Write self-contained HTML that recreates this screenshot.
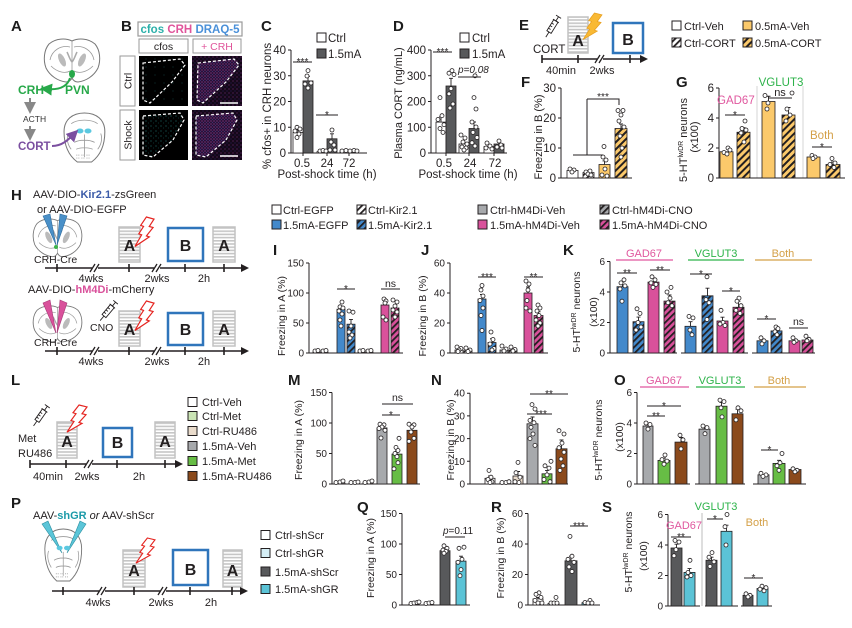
<!DOCTYPE html>
<html><head><meta charset="utf-8"><style>
html,body{margin:0;padding:0;background:#fff}
svg{display:block}
text{font-family:"Liberation Sans",Arial,sans-serif;fill:#231f20}
.ax{stroke:#231f20;stroke-width:1;fill:none}
.b{stroke:#231f20;stroke-width:.8}
.d{fill:#fff;stroke:#231f20;stroke-width:.8}
.e{stroke:#231f20;stroke-width:.9;fill:none}
.t{font-size:10px;text-anchor:end}
.t2{font-size:11.5px;text-anchor:end}
.L{font-family:"Liberation Sans Narrow","Liberation Sans",sans-serif;font-weight:bold;font-size:15px;fill:#1c1c1c}
.lg{font-size:11px}
.m{text-anchor:middle}
.tl{stroke:#231f20;stroke-width:1.6;fill:none}
.al{font-size:10.5px;text-anchor:middle}
.s{font-size:10px;text-anchor:middle}
.sl{stroke:#231f20;stroke-width:1.3}
.bx{fill:url(#st);stroke:#c2c2c2;stroke-width:1.5}
.bb{fill:#fff;stroke:#2f75bb;stroke-width:2.5}
.big{font-weight:bold;font-size:16px;text-anchor:middle}
</style></head><body>
<svg width="852" height="628" viewBox="0 0 852 628" xmlns="http://www.w3.org/2000/svg">
<defs>
<pattern id="hw" width="4.5" height="4.5" patternUnits="userSpaceOnUse" patternTransform="rotate(45)"><rect width="4.5" height="4.5" fill="#fff"/><rect width="1.8" height="4.5" fill="#231f20"/></pattern>
<pattern id="hb" width="4.5" height="4.5" patternUnits="userSpaceOnUse" patternTransform="rotate(45)"><rect width="4.5" height="4.5" fill="#4389cb"/><rect width="1.8" height="4.5" fill="#231f20"/></pattern>
<pattern id="hp" width="4.5" height="4.5" patternUnits="userSpaceOnUse" patternTransform="rotate(45)"><rect width="4.5" height="4.5" fill="#d9519b"/><rect width="1.8" height="4.5" fill="#231f20"/></pattern>
<pattern id="hg" width="4.5" height="4.5" patternUnits="userSpaceOnUse" patternTransform="rotate(45)"><rect width="4.5" height="4.5" fill="#a7a9ac"/><rect width="1.8" height="4.5" fill="#231f20"/></pattern>
<pattern id="ho" width="5" height="5" patternUnits="userSpaceOnUse" patternTransform="rotate(45)"><rect width="5" height="5" fill="#fbc96b"/><rect width="2" height="5" fill="#231f20"/></pattern>
<pattern id="st" width="4" height="3.2" patternUnits="userSpaceOnUse"><rect width="4" height="3.2" fill="#fff"/><rect width="4" height="1.6" fill="#c6c6c6"/></pattern>
<pattern id="cf1" width="9" height="8" patternUnits="userSpaceOnUse"><rect width="9" height="8" fill="#000"/><circle cx="2" cy="3" r=".4" fill="#1f7f7b"/></pattern>
<pattern id="cf2" width="5" height="5" patternUnits="userSpaceOnUse"><circle cx="1" cy="1" r=".5" fill="#2a9a96"/><circle cx="3.5" cy="3" r=".4" fill="#1a6e6a"/></pattern>
<pattern id="crh" width="4" height="4" patternUnits="userSpaceOnUse"><rect width="4" height="4" fill="#140818"/><circle cx="1" cy="1" r=".6" fill="#6a2a70"/><circle cx="3" cy="3" r=".5" fill="#32287a"/></pattern>
<pattern id="crh2" width="3" height="3" patternUnits="userSpaceOnUse"><rect width="3" height="3" fill="#2a1236"/><circle cx="1" cy="1" r=".6" fill="#9a4098"/><circle cx="2.4" cy="2.3" r=".45" fill="#5a44a8"/></pattern>
<path id="bolt" d="M12,0 L20,2 L15,9 L19,10 L12,18 L15,19 L0,28 L7,17 L4,16 L9,9 L6,8 Z"/>
<g id="syr" stroke="#231f20" stroke-width=".9" fill="none"><path d="M-6,0 H0 M13,0 H18 M18,-3 V3 M13,-3.5 V3.5 M3,-2.5 V0 M6,-2.5 V0 M9,-2.5 V0"/><rect x="0" y="-2.5" width="13" height="5" fill="#fff" fill-opacity="0"/></g>
<g id="br1"><path d="M29,3 C23,0 13,0 6,6 C1,12 0,22 3,30 C7,38 15,43 23,44 C26,44 28,42 29,40 C30,42 32,44 35,44 C43,43 51,38 55,30 C58,22 57,12 52,6 C45,0 35,0 29,3 Z" fill="#fff" stroke="#777" stroke-width="1"/>
<path d="M29,3 V40 M7,22 C9,12 18,7 27,9 M51,22 C49,12 40,7 31,9 M8,28 C14,34 22,36 27,33 M50,28 C44,34 36,36 31,33" fill="none" stroke="#999" stroke-width=".8"/>
<ellipse cx="19" cy="22" rx="3" ry="7" fill="#bbb" transform="rotate(-25 19 22)"/><ellipse cx="39" cy="22" rx="3" ry="7" fill="#bbb" transform="rotate(25 39 22)"/>
<path d="M24,14 C26,18 27,22 29,24 C31,22 32,18 34,14" fill="none" stroke="#aaa" stroke-width="1.5"/></g>
<g id="br2"><path d="M22,1 C10,1 2,8 2,20 C2,33 6,44 15,51 L29,51 C38,44 42,33 42,20 C42,8 34,1 22,1 Z" fill="#fff" stroke="#777"/>
<path d="M9,12 C15,7 29,7 35,12 M22,23 V46 M12,31 C17,28 27,28 32,31 M14,38 C18,36 26,36 30,38 M6,22 C4,28 6,34 9,38 M38,22 C40,28 38,34 35,38" fill="none" stroke="#999" stroke-width=".8"/>
<path d="M14,44 h3 M19,44 h3 M24,44 h3 M14,47 h3 M19,47 h3 M24,47 h3" stroke="#aaa" stroke-dasharray="1,1"/></g>
<marker id="mg" markerWidth="6" markerHeight="6" refX="3" refY="3" orient="auto"><path d="M0,0 L6,3 L0,6 Z" fill="#27a849"/></marker>
<marker id="mp" markerWidth="6" markerHeight="6" refX="3" refY="3" orient="auto"><path d="M0,0 L6,3 L0,6 Z" fill="#7b4fa0"/></marker>
<marker id="mk" markerWidth="6" markerHeight="6" refX="3" refY="3" orient="auto"><path d="M0,0 L6,3 L0,6 Z" fill="#888"/></marker>
</defs>

<!-- Panel labels -->
<text class="L" x="11" y="31">A</text><text class="L" x="121" y="31">B</text><text class="L" x="261" y="31">C</text><text class="L" x="393" y="31">D</text><text class="L" x="519" y="30">E</text><text class="L" x="521" y="87">F</text><text class="L" x="676" y="87">G</text>
<text class="L" x="11" y="200">H</text><text class="L" x="273" y="255">I</text><text class="L" x="421" y="255">J</text><text class="L" x="563" y="255">K</text>
<text class="L" x="11" y="385">L</text><text class="L" x="288" y="385">M</text><text class="L" x="431" y="385">N</text><text class="L" x="614" y="385">O</text>
<text class="L" x="11" y="508">P</text><text class="L" x="357" y="512">Q</text><text class="L" x="491" y="512">R</text><text class="L" x="602" y="512">S</text>

<!-- A -->
<use href="#br1" transform="translate(43,38)"/>
<ellipse cx="72" cy="74" rx="3" ry="4" fill="#27a849"/>
<path d="M70,78 Q66,91 46,89" fill="none" stroke="#27a849" stroke-width="2" marker-end="url(#mg)"/>
<text x="18" y="94" style="font-weight:bold;font-size:12px;fill:#27a849">CRH</text>
<text x="65" y="94" style="font-weight:bold;font-size:12px;fill:#27a849">PVN</text>
<path d="M30,98 V108" stroke="#888" stroke-width="2" marker-end="url(#mk)"/>
<text x="23" y="122" style="font-size:8.5px;fill:#333">ACTH</text>
<path d="M30,126 V135" stroke="#888" stroke-width="2" marker-end="url(#mk)"/>
<text x="18" y="150" style="font-weight:bold;font-size:11.5px;fill:#7b4fa0">CORT</text>
<use href="#br2" transform="translate(62,112) scale(1.02,0.98)"/>
<ellipse cx="80" cy="131" rx="3.5" ry="2.5" fill="#5bc8e0"/><ellipse cx="88" cy="131" rx="3.5" ry="2.5" fill="#5bc8e0"/>
<path d="M52,146 C62,146 68,140 74,134" fill="none" stroke="#7b4fa0" stroke-width="2" marker-end="url(#mp)"/>

<!-- B -->
<rect x="138" y="22" width="104" height="14" fill="#fff" stroke="#9a9a9a" stroke-width="1.2"/>
<text x="190" y="33" class="m" style="font-weight:bold;font-size:11.5px"><tspan style="fill:#2bb0aa">cfos</tspan> <tspan style="fill:#e0559b">CRH</tspan> <tspan style="fill:#4a90d9">DRAQ-5</tspan></text>
<rect x="139" y="39" width="49" height="14" fill="#fff" stroke="#9a9a9a"/><text x="163.5" y="50" class="m" style="font-size:10.5px">cfos</text>
<rect x="193" y="39" width="48" height="14" fill="#fff" stroke="#9a9a9a"/><text x="217" y="50" class="m" style="font-size:10.5px;fill:#e0559b">+ CRH</text>
<rect x="120" y="56" width="15" height="50" fill="#fff" stroke="#9a9a9a"/><text transform="translate(131.5,81) rotate(-90)" class="m" style="font-size:10.5px">Ctrl</text>
<rect x="120" y="110" width="15" height="50" fill="#fff" stroke="#9a9a9a"/><text transform="translate(131.5,135) rotate(-90)" class="m" style="font-size:10.5px">Shock</text>
<rect x="139" y="56" width="49" height="50" fill="url(#cf1)"/>
<rect x="192" y="56" width="50" height="50" fill="url(#crh)"/>
<rect x="139" y="110" width="49" height="50" fill="#000"/>
<rect x="192" y="110" width="50" height="50" fill="url(#crh)"/>
<path d="M198,63 L234,59 L239,65 L226,82 L203,103 L197,100 Z" fill="url(#crh2)"/>
<path d="M143,116 L180,113 L184,120 L173,140 L153,157 L143,155 Z" fill="url(#cf2)"/>
<path d="M196,116 L233,113 L237,120 L226,140 L206,157 L196,155 Z" fill="url(#crh2)"/>
<g fill="none" stroke="#fff" stroke-width="1.2" stroke-dasharray="3,2">
<path d="M143,63 L180,59 L185,65 L172,82 L150,103 L143,100 Z"/><path d="M198,63 L234,59 L239,65 L226,82 L203,103 L197,100 Z"/>
<path d="M143,116 L180,113 L184,120 L173,140 L153,157 L143,155 Z"/><path d="M196,116 L233,113 L237,120 L226,140 L206,157 L196,155 Z"/></g>
<path d="M220,103 H238 M220,156 H238" stroke="#fff" stroke-width="1.6"/>

<!-- C -->
<text transform="translate(271,106) rotate(-90)" class="m" style="font-size:11.5px">% cfos+ in CRH neurons</text>
<path class="ax" d="M291,50 V153 H367 M288,50 H291 M288,75.75 H291 M288,101.5 H291 M288,127.25 H291 M288,153 H291 M303,153 V156 M327,153 V156 M349,153 V156"/>
<text class="t2" x="286" y="54">40</text><text class="t2" x="286" y="79.8">30</text><text class="t2" x="286" y="105.5">20</text><text class="t2" x="286" y="131.3">10</text><text class="t2" x="286" y="157">0</text>
<text x="302" y="167" class="m" style="font-size:11.5px">0.5</text><text x="327" y="167" class="m" style="font-size:11.5px">24</text><text x="349" y="167" class="m" style="font-size:11.5px">72</text>
<text x="327" y="178" class="m" style="font-size:11.5px">Post-shock time (h)</text>
<rect x="317" y="33" width="9" height="9" fill="#fff" stroke="#231f20"/><text x="328" y="42" style="font-size:11.5px">Ctrl</text>
<rect x="317" y="49" width="9" height="9" fill="#58595b" stroke="#231f20"/><text x="328" y="58" style="font-size:11.5px">1.5mA</text>
<rect class="b" x="293" y="132.4" width="10" height="20.6" fill="#fff"/>
<rect class="b" x="303" y="80.9" width="10" height="72.1" fill="#58595b"/>
<rect class="b" x="317" y="151.7" width="10" height="1.3" fill="#fff"/>
<rect class="b" x="327" y="138.8" width="10" height="14.2" fill="#58595b"/>
<rect class="b" x="340" y="152" width="9" height="1" fill="#fff"/>
<rect class="b" x="349" y="152" width="9" height="1" fill="#58595b"/>
<path class="e" d="M298,132.4 V129.8 M296,129.8 H300 M308,80.9 V76.3 M306,76.3 H310 M332,138.8 V133.8 M330,133.8 H334"/>
<g class="d"><circle cx="297" cy="127.3" r="2"/><circle cx="300" cy="129" r="2"/><circle cx="295" cy="131" r="2"/><circle cx="299" cy="134" r="2"/><circle cx="297" cy="137.5" r="2"/>
<circle cx="308" cy="70.6" r="2"/><circle cx="307" cy="76" r="2"/><circle cx="305" cy="84" r="2"/><circle cx="311" cy="83" r="2"/><circle cx="308" cy="88" r="2"/>
<circle cx="320" cy="151" r="2"/><circle cx="323" cy="150.5" r="2"/><circle cx="326" cy="151" r="2"/>
<circle cx="332" cy="130" r="2"/><circle cx="331" cy="142" r="2"/><circle cx="334" cy="145" r="2"/><circle cx="330" cy="150" r="2"/><circle cx="335" cy="150" r="2"/>
<circle cx="342" cy="151" r="2"/><circle cx="346" cy="150.5" r="2"/><circle cx="350" cy="151" r="2"/><circle cx="354" cy="150.5" r="2"/><circle cx="357" cy="151" r="2"/></g>
<path class="ax" d="M293,62 H312 M316,115 H338"/>
<text class="s" x="302.5" y="65">***</text><text class="s" x="327" y="118">*</text>

<!-- D -->
<text transform="translate(402,103) rotate(-90)" class="m" style="font-size:11px">Plasma CORT (ng/mL)</text>
<path class="ax" d="M431,50 V153 H507 M428,50 H431 M428,75.75 H431 M428,101.5 H431 M428,127.25 H431 M428,153 H431 M446,153 V156 M469,153 V156 M494,153 V156"/>
<text class="t2" x="426" y="54">400</text><text class="t2" x="426" y="79.8">300</text><text class="t2" x="426" y="105.5">200</text><text class="t2" x="426" y="131.3">100</text><text class="t2" x="426" y="157">0</text>
<text x="444" y="167" class="m" style="font-size:11.5px">0.5</text><text x="470" y="167" class="m" style="font-size:11.5px">24</text><text x="495" y="167" class="m" style="font-size:11.5px">72</text>
<text x="468" y="178" class="m" style="font-size:11.5px">Post-shock time (h)</text>
<rect x="460" y="33" width="9" height="9" fill="#fff" stroke="#231f20"/><text x="472" y="42" style="font-size:11.5px">Ctrl</text>
<rect x="460" y="49" width="9" height="9" fill="#58595b" stroke="#231f20"/><text x="472" y="58" style="font-size:11.5px">1.5mA</text>
<text x="458" y="73" style="font-size:10px;font-style:italic">p=0.08</text>
<rect class="b" x="436" y="122.1" width="10" height="30.9" fill="#fff"/>
<rect class="b" x="446" y="86" width="10" height="67" fill="#58595b"/>
<rect class="b" x="459" y="144" width="10" height="9" fill="#fff"/>
<rect class="b" x="469" y="128.5" width="10" height="24.5" fill="#58595b"/>
<rect class="b" x="484" y="146.6" width="10" height="6.4" fill="#fff"/>
<rect class="b" x="494" y="144" width="10" height="9" fill="#58595b"/>
<path class="e" d="M441,122.1 V116.9 M439,116.9 H443 M451,86 V78.3 M449,78.3 H453 M474,128.5 V122 M472,122 H476 M499,144 V141 M497,141 H501"/>
<g class="d"><circle cx="440" cy="97.6" r="2"/><circle cx="442" cy="115.7" r="2"/><circle cx="438" cy="119.5" r="2"/><circle cx="444" cy="124.7" r="2"/><circle cx="440" cy="128.5" r="2"/><circle cx="443" cy="132.4" r="2"/>
<circle cx="452" cy="70.6" r="2"/><circle cx="449" cy="73.2" r="2"/><circle cx="454" cy="74.5" r="2"/><circle cx="451" cy="88.6" r="2"/><circle cx="449" cy="93.8" r="2"/><circle cx="453" cy="104" r="2"/><circle cx="450" cy="108" r="2"/>
<circle cx="461" cy="135" r="2"/><circle cx="465" cy="138" r="2"/><circle cx="463" cy="142" r="2"/><circle cx="467" cy="144" r="2"/><circle cx="462" cy="147" r="2"/><circle cx="466" cy="148" r="2"/><circle cx="464" cy="150" r="2"/>
<circle cx="475" cy="75.8" r="2"/><circle cx="474" cy="97.6" r="2"/><circle cx="476" cy="109" r="2"/><circle cx="472" cy="122" r="2"/><circle cx="476" cy="127" r="2"/><circle cx="473" cy="132.4" r="2"/><circle cx="477" cy="137.5" r="2"/><circle cx="472" cy="142.7" r="2"/><circle cx="475" cy="146" r="2"/>
<circle cx="487" cy="143" r="2"/><circle cx="490" cy="146" r="2"/><circle cx="486" cy="148" r="2"/><circle cx="492" cy="149" r="2"/>
<circle cx="499" cy="141" r="2"/><circle cx="501" cy="145" r="2"/><circle cx="497" cy="147" r="2"/><circle cx="502" cy="148" r="2"/></g>
<path class="ax" d="M433,52 H452 M458,77 H481"/>
<text class="s" x="442.5" y="55">***</text>

<!-- E -->
<use href="#syr" transform="translate(549,32) rotate(-58)"/>
<text x="533" y="53" style="font-size:11.5px">CORT</text>
<rect class="bx" x="568" y="17" width="20" height="36"/>
<text class="big" x="578" y="46">A</text>
<use href="#bolt" transform="translate(583,13) scale(0.95)" fill="#f9b934" stroke="#e8a020" stroke-width=".8"/>
<rect class="bb" x="613" y="23" width="30" height="30"/>
<text class="big" x="628" y="45">B</text>
<path class="tl" d="M542,59 H641 M542,55 V63 M578,55 V63 M630,55 V63"/>
<polygon points="640,55 648,59 640,63" fill="#231f20"/>
<rect x="597" y="56" width="6" height="6" fill="#fff"/><path class="sl" d="M595,63 L600,55 M599,63 L604,55"/>
<text x="561" y="74" class="m" style="font-size:11px">40min</text><text x="602" y="74" class="m" style="font-size:11px">2wks</text>
<rect x="672" y="21" width="9" height="9" fill="#fff" stroke="#231f20"/><text class="lg" x="684" y="30">Ctrl-Veh</text>
<rect x="672" y="38" width="9" height="9" fill="url(#hw)" stroke="#231f20"/><text class="lg" x="684" y="47">Ctrl-CORT</text>
<rect x="743" y="21" width="9" height="9" fill="#fbc96b" stroke="#231f20"/><text class="lg" x="755" y="30">0.5mA-Veh</text>
<rect x="743" y="38" width="9" height="9" fill="url(#ho)" stroke="#231f20"/><text class="lg" x="755" y="47">0.5mA-CORT</text>

<!-- F -->
<text transform="translate(542,137) rotate(-90)" class="m" style="font-size:11px">Freezing in B (%)</text>
<path class="ax" d="M561,88 V178 H632 M558,88 H561 M558,118 H561 M558,148 H561 M558,178 H561"/>
<text class="t2" x="556" y="92">30</text><text class="t2" x="556" y="122">20</text><text class="t2" x="556" y="152">10</text><text class="t2" x="556" y="182">0</text>
<rect class="b" x="567" y="170.5" width="11" height="7.5" fill="#fff"/>
<rect class="b" x="583" y="172.6" width="11" height="5.4" fill="url(#hw)"/>
<rect class="b" x="599" y="164.5" width="11" height="13.5" fill="#fbc96b"/>
<rect class="b" x="615" y="128.5" width="12" height="49.5" fill="url(#ho)"/>
<path class="e" d="M604.5,164.5 V160.9 M602.5,160.9 H606.5 M621,128.5 V124 M619,124 H623"/>
<g class="d"><circle cx="570" cy="169" r="2"/><circle cx="574" cy="170" r="2"/><circle cx="572" cy="172" r="2"/>
<circle cx="586" cy="172" r="2"/><circle cx="590" cy="171" r="2"/><circle cx="588" cy="174" r="2"/><circle cx="591" cy="175" r="2"/>
<circle cx="604" cy="146.5" r="2"/><circle cx="603" cy="157" r="2"/><circle cx="606" cy="160" r="2"/><circle cx="605" cy="169" r="2"/><circle cx="602" cy="175" r="2"/><circle cx="607" cy="176" r="2"/>
<circle cx="618" cy="110.5" r="2"/><circle cx="623" cy="110.5" r="2"/><circle cx="621" cy="115" r="2"/><circle cx="619" cy="121" r="2"/><circle cx="624" cy="127" r="2"/><circle cx="620" cy="136" r="2"/><circle cx="622" cy="148" r="2"/><circle cx="621" cy="157" r="2"/></g>
<path class="ax" d="M587,99 H619 V105 M587,99 V155 M573,155 H603"/>
<text class="s" x="603" y="100">***</text>

<!-- G -->
<text transform="translate(687,140) rotate(-90)" class="m" style="font-size:11px">5-HT<tspan font-size="7" dy="-4">lwDR</tspan><tspan dy="4"> neurons</tspan></text>
<text transform="translate(698,137) rotate(-90)" class="m" style="font-size:11px">(x100)</text>
<path d="M757,86 V178 M803,86 V178" stroke="#d4d4d4" stroke-width="1"/>
<path class="ax" d="M719,88 V178 H845 M716,88 H719 M716,118 H719 M716,148 H719 M716,178 H719"/>
<text class="t2" x="714" y="92">6</text><text class="t2" x="714" y="122">4</text><text class="t2" x="714" y="152">2</text><text class="t2" x="714" y="182">0</text>
<rect class="b" x="720" y="151.75" width="13" height="26.25" fill="#fbc96b"/>
<rect class="b" x="737" y="132.25" width="13" height="45.75" fill="url(#ho)"/>
<rect class="b" x="762" y="101.5" width="13" height="76.5" fill="#fbc96b"/>
<rect class="b" x="782" y="115" width="13" height="63" fill="url(#ho)"/>
<rect class="b" x="807" y="157" width="13" height="21" fill="#fbc96b"/>
<rect class="b" x="826" y="164.5" width="14" height="13.5" fill="url(#ho)"/>
<path class="e" d="M743.5,132.25 V127.75 M741.5,127.75 H745.5 M768.5,101.5 V96.25 M766.5,96.25 H770.5 M788.5,115 V107.5 M786.5,107.5 H790.5 M833,164.5 V162 M831,162 H835"/>
<g class="d"><circle cx="728" cy="148" r="2"/><circle cx="724" cy="152.5" r="2"/><circle cx="727" cy="154" r="2"/><circle cx="730" cy="150" r="2"/>
<circle cx="745" cy="121" r="2"/><circle cx="742" cy="128.5" r="2"/><circle cx="746" cy="130" r="2"/><circle cx="741" cy="133" r="2"/><circle cx="744" cy="142" r="2"/>
<circle cx="765" cy="95.5" r="2"/><circle cx="768" cy="103" r="2"/><circle cx="767" cy="109" r="2"/>
<circle cx="792" cy="93" r="2"/><circle cx="787" cy="109" r="2"/><circle cx="790" cy="115" r="2"/><circle cx="786" cy="121" r="2"/>
<circle cx="812" cy="155.5" r="2"/><circle cx="815" cy="157" r="2"/><circle cx="813" cy="158.5" r="2"/>
<circle cx="832" cy="158.5" r="2"/><circle cx="835" cy="163" r="2"/><circle cx="830" cy="164.5" r="2"/><circle cx="834" cy="167.5" r="2"/></g>
<text x="717" y="104" style="font-size:11.5px;fill:#e0589f">GAD67</text>
<text x="781" y="86" class="m" style="font-size:11.5px;fill:#2db34a">VGLUT3</text>
<text x="810" y="139" style="font-size:11.5px;fill:#d4a048">Both</text>
<path class="ax" d="M725,115 H745 M768,98 H792 M812,147 H832"/>
<text class="s" x="735" y="118">*</text><text x="780" y="96" class="m" style="font-size:11px">ns</text><text class="s" x="822" y="150">*</text>

<!-- H -->
<text x="33" y="198" style="font-size:11px">AAV-DIO-<tspan style="fill:#3b5ba8;font-weight:bold">Kir2.1</tspan>-zsGreen</text>
<text x="37" y="213" style="font-size:11px">or AAV-DIO-EGFP</text>
<use href="#br1" transform="translate(32,218) scale(0.88)"/>
<polygon points="43,216 50,214 56,245" fill="#4a90c8" stroke="#2f6c9e" stroke-width=".6"/>
<polygon points="60,214 67,216 57,245" fill="#4a90c8" stroke="#2f6c9e" stroke-width=".6"/>
<circle cx="56" cy="247" r="2" fill="#3cb44a"/>
<text x="34" y="263" style="font-size:10.5px">CRH-Cre</text>
<rect class="bx" x="119" y="227" width="21" height="35"/><text class="big" x="129.5" y="251">A</text>
<use href="#bolt" transform="translate(135,217) scale(0.95,1.05)" fill="#fff" stroke="#e52521" stroke-width="1.2"/>
<rect class="bb" x="168" y="228" width="35" height="33"/><text class="big" x="185.5" y="251">B</text>
<rect class="bx" x="213" y="227" width="22" height="35"/><text class="big" x="224" y="251">A</text>
<path class="tl" d="M45,268 H242 M57,264 V272 M129,264 V272 M185,264 V272 M224,264 V272"/>
<polygon points="241,264 249,268 241,272" fill="#231f20"/>
<rect x="92" y="265" width="6" height="6" fill="#fff"/><path class="sl" d="M90,272 L95,264 M94,272 L99,264"/>
<rect x="154" y="265" width="6" height="6" fill="#fff"/><path class="sl" d="M152,272 L157,264 M156,272 L161,264"/>
<text x="91" y="282" class="m" style="font-size:11px">4wks</text><text x="157" y="282" class="m" style="font-size:11px">2wks</text><text x="204" y="282" class="m" style="font-size:11px">2h</text>

<text x="28" y="293" style="font-size:11px">AAV-DIO-<tspan style="fill:#d9519b;font-weight:bold">hM4Di</tspan>-mCherry</text>
<use href="#br1" transform="translate(32,305) scale(0.88,0.84)"/>
<polygon points="43,303 50,300 56,333" fill="#d9519b" stroke="#a83a78" stroke-width=".6"/>
<polygon points="60,300 67,303 57,333" fill="#d9519b" stroke="#a83a78" stroke-width=".6"/>
<text x="34" y="346" style="font-size:10.5px">CRH-Cre</text>
<use href="#syr" transform="translate(104,316) rotate(-50)"/>
<text x="90" y="331" style="font-size:10.5px">CNO</text>
<rect class="bx" x="119" y="311" width="21" height="35"/><text class="big" x="129.5" y="335">A</text>
<use href="#bolt" transform="translate(135,301) scale(0.95,1.05)" fill="#fff" stroke="#e52521" stroke-width="1.2"/>
<rect class="bb" x="168" y="313" width="35" height="32"/><text class="big" x="185.5" y="335">B</text>
<rect class="bx" x="213" y="311" width="22" height="35"/><text class="big" x="224" y="335">A</text>
<path class="tl" d="M45,351 H242 M57,347 V355 M129,347 V355 M185,347 V355 M224,347 V355"/>
<polygon points="241,347 249,351 241,355" fill="#231f20"/>
<rect x="92" y="348" width="6" height="6" fill="#fff"/><path class="sl" d="M90,355 L95,347 M94,355 L99,347"/>
<rect x="154" y="348" width="6" height="6" fill="#fff"/><path class="sl" d="M152,355 L157,347 M156,355 L161,347"/>
<text x="91" y="365" class="m" style="font-size:11px">4wks</text><text x="157" y="365" class="m" style="font-size:11px">2wks</text><text x="204" y="365" class="m" style="font-size:11px">2h</text>

<!-- I/J/K legend -->
<rect x="272" y="205" width="9" height="9" fill="#fff" stroke="#231f20"/><text class="lg" x="283" y="214">Ctrl-EGFP</text>
<rect x="272" y="220" width="9" height="9" fill="#4389cb" stroke="#231f20"/><text class="lg" x="283" y="229">1.5mA-EGFP</text>
<rect x="357" y="205" width="9" height="9" fill="url(#hw)" stroke="#231f20"/><text class="lg" x="368" y="214">Ctrl-Kir2.1</text>
<rect x="357" y="220" width="9" height="9" fill="url(#hb)" stroke="#231f20"/><text class="lg" x="368" y="229">1.5mA-Kir2.1</text>
<rect x="478" y="205" width="9" height="9" fill="#a7a9ac" stroke="#231f20"/><text class="lg" x="490" y="214">Ctrl-hM4Di-Veh</text>
<rect x="478" y="220" width="9" height="9" fill="#d9519b" stroke="#231f20"/><text class="lg" x="490" y="229">1.5mA-hM4Di-Veh</text>
<rect x="600" y="205" width="9" height="9" fill="url(#hg)" stroke="#231f20"/><text class="lg" x="612" y="214">Ctrl-hM4Di-CNO</text>
<rect x="600" y="220" width="9" height="9" fill="url(#hp)" stroke="#231f20"/><text class="lg" x="612" y="229">1.5mA-hM4Di-CNO</text>

<!-- I -->
<text transform="translate(285,316) rotate(-90)" class="al">Freezing in A (%)</text>
<path class="ax" d="M309,263 V353 H403 M306,263 H309 M306,293 H309 M306,323 H309 M306,353 H309"/>
<text class="t" x="304" y="266.5">150</text><text class="t" x="304" y="296.5">100</text><text class="t" x="304" y="326.5">50</text><text class="t" x="304" y="356.5">0</text>
<rect class="b" x="313" y="352" width="7" height="1" fill="#fff"/><rect class="b" x="321" y="352" width="7" height="1" fill="url(#hw)"/>
<rect class="b" x="337" y="309.2" width="8" height="43.8" fill="#4389cb"/>
<rect class="b" x="347" y="324.2" width="8" height="28.8" fill="url(#hb)"/>
<rect class="b" x="358" y="352" width="7" height="1" fill="#a7a9ac"/><rect class="b" x="366" y="352" width="7" height="1" fill="url(#hg)"/>
<rect class="b" x="381" y="305" width="8" height="48" fill="#d9519b"/>
<rect class="b" x="391" y="308" width="8" height="45" fill="url(#hp)"/>
<path class="e" d="M341,309.2 V306.2 M339,306.2 H343 M351,324.2 V319.4 M349,319.4 H353 M385,305 V299 M383,299 H387 M395,308 V305 M393,305 H397"/>
<g class="d"><circle cx="315" cy="351" r="2"/><circle cx="318" cy="350.5" r="2"/><circle cx="323" cy="351" r="2"/><circle cx="326" cy="350.5" r="2"/>
<circle cx="342" cy="302" r="2"/><circle cx="340" cy="306.8" r="2"/><circle cx="343" cy="308" r="2"/><circle cx="339" cy="311" r="2"/><circle cx="342" cy="314" r="2"/><circle cx="340" cy="320" r="2"/><circle cx="341" cy="326" r="2"/>
<circle cx="349" cy="311" r="2"/><circle cx="353" cy="312.2" r="2"/><circle cx="351" cy="326" r="2"/><circle cx="349" cy="332" r="2"/><circle cx="352" cy="335" r="2"/><circle cx="350" cy="338" r="2"/>
<circle cx="360" cy="351" r="2"/><circle cx="363" cy="350.5" r="2"/><circle cx="368" cy="351" r="2"/><circle cx="371" cy="350.5" r="2"/>
<circle cx="384" cy="299" r="2"/><circle cx="386" cy="301" r="2"/><circle cx="385" cy="303" r="2"/><circle cx="383" cy="317" r="2"/><circle cx="386" cy="320" r="2"/>
<circle cx="393" cy="300" r="2"/><circle cx="397" cy="302" r="2"/><circle cx="395" cy="306" r="2"/><circle cx="393" cy="310" r="2"/><circle cx="397" cy="312" r="2"/><circle cx="395" cy="317" r="2"/></g>
<path class="ax" d="M337,289 H355 M381,289 H400"/>
<text class="s" x="346" y="292">*</text><text x="390.5" y="287" class="m" style="font-size:10.5px">ns</text>

<!-- J -->
<text transform="translate(426,316) rotate(-90)" class="al">Freezing in B (%)</text>
<path class="ax" d="M450,263 V353 H548 M447,263 H450 M447,293 H450 M447,323 H450 M447,353 H450"/>
<text class="t" x="445" y="266.5">60</text><text class="t" x="445" y="296.5">40</text><text class="t" x="445" y="326.5">20</text><text class="t" x="445" y="356.5">0</text>
<rect class="b" x="455" y="350" width="8" height="3" fill="#fff"/>
<rect class="b" x="464" y="350.75" width="8" height="2.25" fill="url(#hw)"/>
<rect class="b" x="478" y="299" width="8" height="54" fill="#4389cb"/>
<rect class="b" x="488" y="342.5" width="8" height="10.5" fill="url(#hb)"/>
<rect class="b" x="500" y="350" width="8" height="3" fill="#a7a9ac"/>
<rect class="b" x="509" y="350" width="8" height="3" fill="url(#hg)"/>
<rect class="b" x="524" y="293" width="8" height="60" fill="#d9519b"/>
<rect class="b" x="534" y="315.5" width="9" height="37.5" fill="url(#hp)"/>
<path class="e" d="M482,299 V294.5 M480,294.5 H484 M492,342.5 V338.75 M490,338.75 H494 M528,293 V287 M526,287 H530 M538.5,315.5 V311.75 M536.5,311.75 H540.5"/>
<g class="d"><circle cx="457" cy="347" r="2"/><circle cx="461" cy="348.5" r="2"/><circle cx="459" cy="350" r="2"/><circle cx="458" cy="351.5" r="2"/>
<circle cx="466" cy="348" r="2"/><circle cx="470" cy="350" r="2"/><circle cx="468" cy="351.5" r="2"/>
<circle cx="482" cy="285.5" r="2"/><circle cx="481" cy="290" r="2"/><circle cx="483" cy="296" r="2"/><circle cx="480" cy="300.5" r="2"/><circle cx="483" cy="308" r="2"/><circle cx="481" cy="315.5" r="2"/><circle cx="482" cy="330.5" r="2"/>
<circle cx="491" cy="332" r="2"/><circle cx="493" cy="339.5" r="2"/><circle cx="490" cy="344" r="2"/><circle cx="494" cy="348.5" r="2"/><circle cx="492" cy="350" r="2"/>
<circle cx="502" cy="346" r="2"/><circle cx="506" cy="349" r="2"/><circle cx="504" cy="351" r="2"/>
<circle cx="511" cy="347" r="2"/><circle cx="515" cy="349.5" r="2"/><circle cx="513" cy="351" r="2"/>
<circle cx="526" cy="281" r="2"/><circle cx="529" cy="284" r="2"/><circle cx="528" cy="290" r="2"/><circle cx="527" cy="300.5" r="2"/><circle cx="526" cy="308" r="2"/><circle cx="530" cy="311" r="2"/>
<circle cx="538" cy="305" r="2"/><circle cx="540" cy="308" r="2"/><circle cx="537" cy="311" r="2"/><circle cx="539" cy="315.5" r="2"/><circle cx="536" cy="320" r="2"/><circle cx="540" cy="323" r="2"/><circle cx="538" cy="326" r="2"/></g>
<path class="ax" d="M478,277 H496 M524,277 H543"/>
<text class="s" x="487" y="280">***</text><text class="s" x="533.5" y="280">**</text>

<!-- K -->
<text transform="translate(580,312) rotate(-90)" class="al">5-HT<tspan font-size="7" dy="-4">lwDR</tspan><tspan dy="4"> neurons</tspan></text>
<text transform="translate(597,312) rotate(-90)" class="al">(x100)</text>
<path class="ax" d="M610,261.5 V353 H677 M681,353 H748 M752,353 H815 M607,261.5 H610 M607,292 H610 M607,322.5 H610 M607,353 H610"/>
<text class="t" x="605" y="265">6</text><text class="t" x="605" y="295.5">4</text><text class="t" x="605" y="326">2</text><text class="t" x="605" y="356.5">0</text>
<text x="644" y="257" class="m" style="font-size:11px;fill:#e0589f">GAD67</text><path d="M616,260 H673" stroke="#e0589f" stroke-width="1.2"/>
<text x="716" y="257" class="m" style="font-size:11px;fill:#2db34a">VGLUT3</text><path d="M688,260 H744" stroke="#2db34a" stroke-width="1.2"/>
<text x="783" y="257" class="m" style="font-size:11px;fill:#d4a048">Both</text><path d="M755,260 H812" stroke="#d4a048" stroke-width="1.2"/>
<rect class="b" x="617" y="286.7" width="11" height="66.3" fill="#4389cb"/>
<rect class="b" x="633" y="321.7" width="11" height="31.3" fill="url(#hb)"/>
<rect class="b" x="648" y="282.1" width="11" height="70.9" fill="#d9519b"/>
<rect class="b" x="664" y="301.1" width="11" height="51.9" fill="url(#hp)"/>
<rect class="b" x="685" y="326.3" width="11" height="26.7" fill="#4389cb"/>
<rect class="b" x="702" y="295.8" width="11" height="57.2" fill="url(#hb)"/>
<rect class="b" x="717" y="321" width="11" height="32" fill="#d9519b"/>
<rect class="b" x="733" y="307.25" width="11" height="45.75" fill="url(#hp)"/>
<rect class="b" x="757" y="340.8" width="11" height="12.2" fill="#4389cb"/>
<rect class="b" x="771" y="330.9" width="11" height="22.1" fill="url(#hb)"/>
<rect class="b" x="789" y="340.8" width="11" height="12.2" fill="#d9519b"/>
<rect class="b" x="802" y="340" width="11" height="13" fill="url(#hp)"/>
<path class="e" d="M622.5,286.7 V282.1 M620.5,282.1 H624.5 M638.5,321.7 V317.1 M636.5,317.1 H640.5 M653.5,282.1 V278.3 M651.5,278.3 H655.5 M669.5,301.1 V295 M667.5,295 H671.5 M690.5,326.3 V321.7 M688.5,321.7 H692.5 M707.5,295.8 V288.2 M705.5,288.2 H709.5 M722.5,321 V317.2 M720.5,317.2 H724.5 M738.5,307.25 V301.2 M736.5,301.2 H740.5 M776.5,330.9 V327.9 M774.5,327.9 H778.5"/>
<g class="d"><circle cx="624" cy="279.8" r="2"/><circle cx="621" cy="282.9" r="2"/><circle cx="625" cy="285.9" r="2"/><circle cx="620" cy="289" r="2"/><circle cx="622" cy="301.2" r="2"/>
<circle cx="637" cy="308.8" r="2"/><circle cx="640" cy="313.4" r="2"/><circle cx="638" cy="322.5" r="2"/><circle cx="641" cy="327" r="2"/><circle cx="636" cy="330" r="2"/>
<circle cx="652" cy="276.8" r="2"/><circle cx="655" cy="279.8" r="2"/><circle cx="651" cy="282.9" r="2"/><circle cx="656" cy="284.4" r="2"/><circle cx="653" cy="287.4" r="2"/>
<circle cx="671" cy="287.4" r="2"/><circle cx="667" cy="292" r="2"/><circle cx="670" cy="298.1" r="2"/><circle cx="668" cy="302.7" r="2"/><circle cx="672" cy="305.7" r="2"/>
<circle cx="689" cy="316.4" r="2"/><circle cx="693" cy="317.9" r="2"/><circle cx="690" cy="330" r="2"/><circle cx="692" cy="334.7" r="2"/>
<circle cx="707" cy="276.8" r="2"/><circle cx="706" cy="299.6" r="2"/><circle cx="709" cy="302.7" r="2"/><circle cx="707" cy="319.5" r="2"/>
<circle cx="721" cy="310.3" r="2"/><circle cx="723" cy="322.5" r="2"/><circle cx="720" cy="324" r="2"/><circle cx="725" cy="325.5" r="2"/>
<circle cx="739" cy="298.1" r="2"/><circle cx="737" cy="301.2" r="2"/><circle cx="741" cy="305.7" r="2"/><circle cx="736" cy="310.3" r="2"/><circle cx="740" cy="313.4" r="2"/>
<circle cx="761" cy="337.8" r="2"/><circle cx="764" cy="340.8" r="2"/><circle cx="762" cy="343.9" r="2"/>
<circle cx="776" cy="327" r="2"/><circle cx="778" cy="328.6" r="2"/><circle cx="775" cy="331.7" r="2"/><circle cx="777" cy="334.7" r="2"/>
<circle cx="793" cy="337.8" r="2"/><circle cx="796" cy="340.8" r="2"/><circle cx="794" cy="342.3" r="2"/>
<circle cx="806" cy="336.2" r="2"/><circle cx="809" cy="339.3" r="2"/><circle cx="807" cy="340.8" r="2"/></g>
<path class="ax" d="M617,273 H637 M650,270 H670 M690,274 H712 M722,291 H740 M757,319 H776 M789,328 H808"/>
<text class="s" x="627" y="276">**</text><text class="s" x="660" y="273">**</text><text class="s" x="701" y="277">*</text><text class="s" x="731" y="294">*</text><text class="s" x="766.5" y="322">*</text><text x="798.5" y="325" class="m" style="font-size:10.5px">ns</text>

<!-- L -->
<use href="#syr" transform="translate(37,421) rotate(-55)"/>
<text x="18" y="442" style="font-size:11px">Met</text>
<text x="18" y="457" style="font-size:11px">RU486</text>
<rect class="bx" x="57" y="422" width="20" height="36"/><text class="big" x="67" y="447">A</text>
<use href="#bolt" transform="translate(67,405) scale(1,0.97)" fill="#fff" stroke="#e52521" stroke-width="1.2"/>
<rect class="bb" x="103" y="428" width="29" height="29"/><text class="big" x="117.5" y="448">B</text>
<rect class="bx" x="155" y="422" width="20" height="36"/><text class="big" x="165" y="447">A</text>
<path class="tl" d="M30,464 H176 M30,460 V468 M66,460 V468 M117,460 V468 M165,460 V468"/>
<polygon points="175,460 183,464 175,468" fill="#231f20"/>
<rect x="86" y="461" width="6" height="6" fill="#fff"/><path class="sl" d="M84,468 L89,460 M88,468 L93,460"/>
<text x="48" y="480" class="m" style="font-size:11px">40min</text><text x="87" y="480" class="m" style="font-size:11px">2wks</text><text x="139" y="480" class="m" style="font-size:11px">2h</text>
<rect x="188" y="397.5" width="9" height="9" fill="#fff" stroke="#231f20"/><text class="lg" x="202" y="406">Ctrl-Veh</text>
<rect x="188" y="411.5" width="9" height="9" fill="#cbe5b5" stroke="#231f20"/><text class="lg" x="202" y="420">Ctrl-Met</text>
<rect x="188" y="426.5" width="9" height="9" fill="#eadccc" stroke="#231f20"/><text class="lg" x="202" y="435">Ctrl-RU486</text>
<rect x="188" y="441.5" width="9" height="9" fill="#a7a9ac" stroke="#231f20"/><text class="lg" x="202" y="450">1.5mA-Veh</text>
<rect x="188" y="456.5" width="9" height="9" fill="#67bd45" stroke="#231f20"/><text class="lg" x="202" y="465">1.5mA-Met</text>
<rect x="188" y="471.5" width="9" height="9" fill="#8b4a1c" stroke="#231f20"/><text class="lg" x="202" y="480">1.5mA-RU486</text>

<!-- M -->
<text transform="translate(302,440) rotate(-90)" class="al">Freezing in A (%)</text>
<path class="ax" d="M332,392.5 V484 H420 M329,392.5 H332 M329,423 H332 M329,453.5 H332 M329,484 H332"/>
<text class="t" x="327" y="396">150</text><text class="t" x="327" y="426.5">100</text><text class="t" x="327" y="457">50</text><text class="t" x="327" y="487.5">0</text>
<rect class="b" x="335" y="483" width="10" height="1" fill="#fff"/>
<rect class="b" x="349" y="483.5" width="10" height=".5" fill="#cbe5b5"/>
<rect class="b" x="363" y="483" width="10" height="1" fill="#eadccc"/>
<rect class="b" x="377" y="427.9" width="10" height="56.1" fill="#a7a9ac"/>
<rect class="b" x="392" y="454.1" width="10" height="29.9" fill="#67bd45"/>
<rect class="b" x="407" y="430.3" width="10" height="53.7" fill="#8b4a1c"/>
<path class="e" d="M382,427.9 V426.1 M380,426.1 H384 M397,454.1 V451.1 M395,451.1 H399 M412,430.3 V424.3 M410,424.3 H414"/>
<g class="d"><circle cx="336" cy="482.5" r="2"/><circle cx="340" cy="482" r="2"/><circle cx="343" cy="481" r="2"/>
<circle cx="351" cy="482.5" r="2"/><circle cx="355" cy="482.5" r="2"/><circle cx="358" cy="482" r="2"/>
<circle cx="365" cy="482.5" r="2"/><circle cx="369" cy="482" r="2"/><circle cx="372" cy="481" r="2"/>
<circle cx="380" cy="424.2" r="2"/><circle cx="384" cy="424.8" r="2"/><circle cx="382" cy="427" r="2"/><circle cx="379" cy="428.5" r="2"/><circle cx="385" cy="430.3" r="2"/><circle cx="381" cy="438" r="2"/>
<circle cx="399" cy="438.3" r="2"/><circle cx="396" cy="447.4" r="2"/><circle cx="398" cy="450.5" r="2"/><circle cx="395" cy="453.5" r="2"/><circle cx="397" cy="456.6" r="2"/><circle cx="398" cy="462.7" r="2"/><circle cx="394" cy="468.8" r="2"/>
<circle cx="409" cy="424.2" r="2"/><circle cx="414" cy="424.8" r="2"/><circle cx="412" cy="427" r="2"/><circle cx="411" cy="432" r="2"/><circle cx="414" cy="438.3" r="2"/><circle cx="409" cy="441.3" r="2"/></g>
<path class="ax" d="M382,415 H400 M382,404 H413"/>
<text class="s" x="391" y="418">*</text><text x="397.5" y="401" class="m" style="font-size:10.5px">ns</text>

<!-- N -->
<text transform="translate(454,440) rotate(-90)" class="al">Freezing in B (%)</text>
<path class="ax" d="M470,393.2 V484 H568 M467,393.2 H470 M467,415.9 H470 M467,438.6 H470 M467,461.3 H470 M467,484 H470"/>
<text class="t" x="465" y="396.7">40</text><text class="t" x="465" y="419.4">30</text><text class="t" x="465" y="442.1">20</text><text class="t" x="465" y="464.8">10</text><text class="t" x="465" y="487.5">0</text>
<rect class="b" x="485" y="478.3" width="10" height="5.7" fill="#fff"/>
<rect class="b" x="500" y="482.9" width="10" height="1.1" fill="#cbe5b5"/>
<rect class="b" x="513" y="476" width="10" height="8" fill="#eadccc"/>
<rect class="b" x="527" y="423.8" width="11" height="60.2" fill="#a7a9ac"/>
<rect class="b" x="542" y="473.8" width="10" height="10.2" fill="#67bd45"/>
<rect class="b" x="556" y="448.8" width="11" height="35.2" fill="#8b4a1c"/>
<path class="e" d="M490,478.3 V476 M488,476 H492 M518,476 V471.5 M516,471.5 H520 M532.5,423.8 V417 M530.5,417 H534.5 M547,473.8 V470.4 M545,470.4 H549 M561.5,448.8 V440 M559.5,440 H563.5"/>
<g class="d"><circle cx="489" cy="470.4" r="2"/><circle cx="491" cy="477.2" r="2"/><circle cx="488" cy="479.5" r="2"/><circle cx="492" cy="481.7" r="2"/><circle cx="490" cy="482.5" r="2"/>
<circle cx="502" cy="482.5" r="2"/><circle cx="506" cy="482.5" r="2"/><circle cx="509" cy="481.7" r="2"/>
<circle cx="518" cy="462.4" r="2"/><circle cx="516" cy="472.7" r="2"/><circle cx="520" cy="477.2" r="2"/><circle cx="515" cy="481.7" r="2"/><circle cx="519" cy="482.5" r="2"/>
<circle cx="532" cy="404.6" r="2"/><circle cx="535" cy="409" r="2"/><circle cx="530" cy="420.4" r="2"/><circle cx="534" cy="422.7" r="2"/><circle cx="531" cy="427.3" r="2"/><circle cx="533" cy="434" r="2"/><circle cx="530" cy="438.6" r="2"/><circle cx="535" cy="445.4" r="2"/>
<circle cx="551" cy="461.3" r="2"/><circle cx="545" cy="465.8" r="2"/><circle cx="549" cy="468.1" r="2"/><circle cx="547" cy="474.9" r="2"/><circle cx="544" cy="479.5" r="2"/><circle cx="550" cy="481.7" r="2"/>
<circle cx="559" cy="430.7" r="2"/><circle cx="564" cy="434" r="2"/><circle cx="562" cy="443.1" r="2"/><circle cx="559" cy="447.7" r="2"/><circle cx="564" cy="452.2" r="2"/><circle cx="561" cy="459" r="2"/><circle cx="563" cy="465.8" r="2"/><circle cx="560" cy="470.4" r="2"/></g>
<path class="ax" d="M527,414 H552 M530,394 H568"/>
<text class="s" x="541" y="417">***</text><text class="s" x="549" y="397">**</text>

<!-- O -->
<text transform="translate(602,440) rotate(-90)" class="al">5-HT<tspan font-size="7" dy="-4">lwDR</tspan><tspan dy="4"> neurons</tspan></text>
<text transform="translate(623,437) rotate(-90)" class="al">(x100)</text>
<path class="ax" d="M637,392.5 V484 H690 M695,484 H745 M753,484 H806 M634,392.5 H637 M634,423 H637 M634,453.5 H637 M634,484 H637"/>
<text class="t" x="632" y="396">6</text><text class="t" x="632" y="426.5">4</text><text class="t" x="632" y="457">2</text><text class="t" x="632" y="487.5">0</text>
<text x="664" y="384" class="m" style="font-size:11px;fill:#e0589f">GAD67</text><path d="M640,387 H689" stroke="#e0589f" stroke-width="1.2"/>
<text x="720" y="384" class="m" style="font-size:11px;fill:#2db34a">VGLUT3</text><path d="M696,387 H745" stroke="#2db34a" stroke-width="1.2"/>
<text x="779" y="384" class="m" style="font-size:11px;fill:#d4a048">Both</text><path d="M754,387 H806" stroke="#d4a048" stroke-width="1.2"/>
<rect class="b" x="643" y="426" width="10" height="58" fill="#a7a9ac"/>
<rect class="b" x="658" y="460.4" width="12" height="23.6" fill="#67bd45"/>
<rect class="b" x="675" y="442.1" width="12" height="41.9" fill="#8b4a1c"/>
<rect class="b" x="699" y="429.1" width="11" height="54.9" fill="#a7a9ac"/>
<rect class="b" x="716" y="406.2" width="11" height="77.8" fill="#67bd45"/>
<rect class="b" x="732" y="413.8" width="11" height="70.2" fill="#8b4a1c"/>
<rect class="b" x="758" y="474.8" width="11" height="9.2" fill="#a7a9ac"/>
<rect class="b" x="773" y="463.4" width="12" height="20.6" fill="#67bd45"/>
<rect class="b" x="789" y="469.5" width="12" height="14.5" fill="#8b4a1c"/>
<path class="e" d="M648,426 V423.7 M646,423.7 H650 M664,460.4 V458.1 M662,458.1 H666 M681,442.1 V437.5 M679,437.5 H683 M704.5,429.1 V426 M702.5,426 H706.5 M721.5,406.2 V402.4 M719.5,402.4 H723.5 M737.5,413.8 V409.2 M735.5,409.2 H739.5 M779,463.4 V460.3 M777,460.3 H781"/>
<g class="d"><circle cx="646" cy="423" r="2"/><circle cx="650" cy="424.5" r="2"/><circle cx="648" cy="429.1" r="2"/>
<circle cx="665" cy="455" r="2"/><circle cx="662" cy="459.6" r="2"/><circle cx="667" cy="461.1" r="2"/><circle cx="664" cy="464.2" r="2"/>
<circle cx="680" cy="435.2" r="2"/><circle cx="683" cy="439.8" r="2"/><circle cx="681" cy="448.9" r="2"/>
<circle cx="703" cy="426" r="2"/><circle cx="707" cy="427.6" r="2"/><circle cx="705" cy="433.7" r="2"/>
<circle cx="720" cy="400.1" r="2"/><circle cx="724" cy="401.6" r="2"/><circle cx="721" cy="407.8" r="2"/><circle cx="722" cy="416.9" r="2"/>
<circle cx="738" cy="407.8" r="2"/><circle cx="741" cy="410.8" r="2"/><circle cx="736" cy="419.9" r="2"/>
<circle cx="761" cy="473.3" r="2"/><circle cx="766" cy="474.9" r="2"/><circle cx="763" cy="476.4" r="2"/>
<circle cx="782" cy="453.5" r="2"/><circle cx="780" cy="462.7" r="2"/><circle cx="777" cy="465.7" r="2"/><circle cx="779" cy="470.3" r="2"/>
<circle cx="793" cy="468.8" r="2"/><circle cx="797" cy="470.3" r="2"/><circle cx="795" cy="471.8" r="2"/></g>
<path class="ax" d="M647,416 H665 M647,406 H681 M761,450 H778"/>
<text class="s" x="656" y="419">**</text><text class="s" x="664" y="409">*</text><text class="s" x="769.5" y="453">*</text>

<!-- P -->
<text x="33" y="519" style="font-size:11px">AAV-<tspan style="fill:#1c9aa8;font-weight:bold">shGR</tspan> <tspan style="font-style:italic">or</tspan> AAV-shScr</text>
<use href="#br2" transform="translate(43,528) scale(0.92,1.04)"/>
<polygon points="42,524 48,521 62,553" fill="#5bc5d8" stroke="#2a8ea0" stroke-width=".6"/>
<polygon points="80,521 86,524 67,553" fill="#5bc5d8" stroke="#2a8ea0" stroke-width=".6"/>
<ellipse cx="59.6" cy="548" rx="3" ry="2.3" fill="#5bc8e0"/><ellipse cx="67" cy="548" rx="3" ry="2.3" fill="#5bc8e0"/>
<rect class="bx" x="123" y="550" width="22" height="37"/><text class="big" x="134" y="576">A</text>
<use href="#bolt" transform="translate(136,538) scale(0.95,0.9)" fill="#fff" stroke="#e52521" stroke-width="1.2"/>
<rect class="bb" x="173" y="550" width="35" height="35"/><text class="big" x="190.5" y="575">B</text>
<rect class="bx" x="223" y="550" width="19" height="37"/><text class="big" x="232.5" y="576">A</text>
<path class="tl" d="M52,591 H241 M63,587 V595 M134,587 V595 M190,587 V595 M232,587 V595"/>
<polygon points="240,587 248,591 240,595" fill="#231f20"/>
<rect x="99" y="588" width="6" height="6" fill="#fff"/><path class="sl" d="M97,595 L102,587 M101,595 L106,587"/>
<rect x="160" y="588" width="6" height="6" fill="#fff"/><path class="sl" d="M158,595 L163,587 M162,595 L167,587"/>
<text x="98" y="606" class="m" style="font-size:11px">4wks</text><text x="161" y="606" class="m" style="font-size:11px">2wks</text><text x="211" y="606" class="m" style="font-size:11px">2h</text>
<rect x="261" y="530.5" width="9" height="9" fill="#fff" stroke="#231f20"/><text class="lg" x="275" y="539">Ctrl-shScr</text>
<rect x="261" y="548.5" width="9" height="9" fill="#d5eef5" stroke="#231f20"/><text class="lg" x="275" y="557">Ctrl-shGR</text>
<rect x="261" y="567" width="9" height="9" fill="#58595b" stroke="#231f20"/><text class="lg" x="275" y="576">1.5mA-shScr</text>
<rect x="261" y="584.5" width="9" height="9" fill="#5bc3d6" stroke="#231f20"/><text class="lg" x="275" y="593">1.5mA-shGR</text>

<!-- Q -->
<text transform="translate(374,558) rotate(-90)" class="al">Freezing in A (%)</text>
<path class="ax" d="M402,513.5 V605 H470 M399,513.5 H402 M399,544 H402 M399,574.5 H402 M399,605 H402"/>
<text class="t" x="397" y="517">150</text><text class="t" x="397" y="547.5">100</text><text class="t" x="397" y="578">50</text><text class="t" x="397" y="608.5">0</text>
<rect class="b" x="409" y="604.4" width="10" height=".6" fill="#fff"/>
<rect class="b" x="424" y="604.7" width="10" height=".3" fill="#d5eef5"/>
<rect class="b" x="440" y="550.7" width="10" height="54.3" fill="#58595b"/>
<rect class="b" x="456" y="561.1" width="10" height="43.9" fill="#5bc3d6"/>
<path class="e" d="M445,550.7 V548.9 M443,548.9 H447 M461,561.1 V556.2 M459,556.2 H463"/>
<g class="d"><circle cx="411" cy="603.5" r="2"/><circle cx="414" cy="603" r="2"/><circle cx="417" cy="602.5" r="2"/><circle cx="419" cy="602" r="2"/>
<circle cx="426" cy="603.5" r="2"/><circle cx="429" cy="603" r="2"/><circle cx="432" cy="602.5" r="2"/>
<circle cx="444" cy="545.8" r="2"/><circle cx="447" cy="548.3" r="2"/><circle cx="443" cy="550.1" r="2"/><circle cx="446" cy="551.3" r="2"/><circle cx="444" cy="553.2" r="2"/>
<circle cx="459" cy="548.3" r="2"/><circle cx="464" cy="547.2" r="2"/><circle cx="462" cy="559.3" r="2"/><circle cx="458" cy="562.3" r="2"/><circle cx="461" cy="569.6" r="2"/><circle cx="460" cy="575.7" r="2"/></g>
<path class="ax" d="M445,537 H465"/>
<text x="458" y="534" class="m" style="font-size:10px"><tspan font-style="italic">p</tspan>=0.11</text>

<!-- R -->
<text transform="translate(504,558) rotate(-90)" class="al">Freezing in B (%)</text>
<path class="ax" d="M528,513.5 V605 H600 M525,513.5 H528 M525,544 H528 M525,574.5 H528 M525,605 H528"/>
<text class="t" x="523" y="517">60</text><text class="t" x="523" y="547.5">40</text><text class="t" x="523" y="578">20</text><text class="t" x="523" y="608.5">0</text>
<rect class="b" x="533" y="598.9" width="10" height="6.1" fill="#fff"/>
<rect class="b" x="548" y="603.5" width="11" height="1.5" fill="#d5eef5"/>
<rect class="b" x="565" y="560.8" width="12" height="44.2" fill="#58595b"/>
<rect class="b" x="582" y="602.7" width="10" height="2.3" fill="#5bc3d6"/>
<path class="e" d="M538,598.9 V597.4 M536,597.4 H540 M571,560.8 V556.2 M569,556.2 H573"/>
<g class="d"><circle cx="539" cy="592.8" r="2"/><circle cx="536" cy="594.3" r="2"/><circle cx="541" cy="597.4" r="2"/><circle cx="535" cy="600.4" r="2"/><circle cx="538" cy="603" r="2"/><circle cx="542" cy="603" r="2"/>
<circle cx="556" cy="597.4" r="2"/><circle cx="551" cy="603" r="2"/><circle cx="554" cy="603" r="2"/><circle cx="557" cy="603" r="2"/>
<circle cx="570" cy="536.4" r="2"/><circle cx="572" cy="556.2" r="2"/><circle cx="568" cy="559.3" r="2"/><circle cx="574" cy="562.3" r="2"/><circle cx="569" cy="566.9" r="2"/><circle cx="572" cy="571.5" r="2"/>
<circle cx="590" cy="600.4" r="2"/><circle cx="585" cy="602.5" r="2"/><circle cx="588" cy="603" r="2"/><circle cx="592" cy="603" r="2"/></g>
<path class="ax" d="M570,526 H588"/>
<text class="s" x="579" y="529">***</text>

<!-- S -->
<text transform="translate(632,552) rotate(-90)" class="al">5-HT<tspan font-size="7" dy="-4">lwDR</tspan><tspan dy="4"> neurons</tspan></text>
<text transform="translate(647,556) rotate(-90)" class="al">(x100)</text>
<path d="M702,513 V606" stroke="#bdbdbd" stroke-width="1"/>
<path class="ax" d="M668,514.5 V606 H700 M705,606 H738 M741,606 H772 M665,514.5 H668 M665,545 H668 M665,575.5 H668 M665,606 H668"/>
<text class="t" x="663" y="518">6</text><text class="t" x="663" y="548.5">4</text><text class="t" x="663" y="579">2</text><text class="t" x="663" y="609.5">0</text>
<text x="684" y="529" class="m" style="font-size:11px;fill:#e0589f">GAD67</text>
<text x="716" y="510" class="m" style="font-size:11px;fill:#2db34a">VGLUT3</text>
<text x="757" y="526" class="m" style="font-size:11px;fill:#d4a048">Both</text>
<rect class="b" x="671" y="548" width="11" height="58" fill="#58595b"/>
<rect class="b" x="684" y="572.4" width="11" height="33.6" fill="#5bc3d6"/>
<rect class="b" x="706" y="560.25" width="11" height="45.75" fill="#58595b"/>
<rect class="b" x="721" y="531.3" width="11" height="74.7" fill="#5bc3d6"/>
<rect class="b" x="743" y="595.3" width="10" height="10.7" fill="#58595b"/>
<rect class="b" x="757" y="588.5" width="11" height="17.5" fill="#5bc3d6"/>
<path class="e" d="M676.5,548 V544.2 M674.5,544.2 H678.5 M689.5,572.4 V568.6 M687.5,568.6 H691.5 M711.5,560.25 V557.2 M709.5,557.2 H713.5 M726.5,531.3 V525.2 M724.5,525.2 H728.5 M762.5,588.5 V587 M760.5,587 H764.5"/>
<g class="d"><circle cx="675" cy="540.4" r="2"/><circle cx="679" cy="542" r="2"/><circle cx="676" cy="549.6" r="2"/><circle cx="674" cy="555.7" r="2"/>
<circle cx="690" cy="560.3" r="2"/><circle cx="688" cy="572.5" r="2"/><circle cx="691" cy="575.5" r="2"/><circle cx="687" cy="577" r="2"/>
<circle cx="712" cy="552.6" r="2"/><circle cx="709" cy="557.2" r="2"/><circle cx="714" cy="561.8" r="2"/><circle cx="710" cy="566.4" r="2"/>
<circle cx="727" cy="514.5" r="2"/><circle cx="725" cy="526.7" r="2"/><circle cx="726" cy="545" r="2"/>
<circle cx="746" cy="593.8" r="2"/><circle cx="750" cy="595.3" r="2"/><circle cx="748" cy="596.9" r="2"/>
<circle cx="762" cy="586.2" r="2"/><circle cx="766" cy="587.7" r="2"/><circle cx="760" cy="589.2" r="2"/><circle cx="764" cy="590.8" r="2"/></g>
<path class="ax" d="M671,537 H691 M707,519 H723 M744,578 H763"/>
<text class="s" x="681" y="540">**</text><text class="s" x="715" y="522">*</text><text class="s" x="753.5" y="581">*</text>
</svg>
</body></html>
